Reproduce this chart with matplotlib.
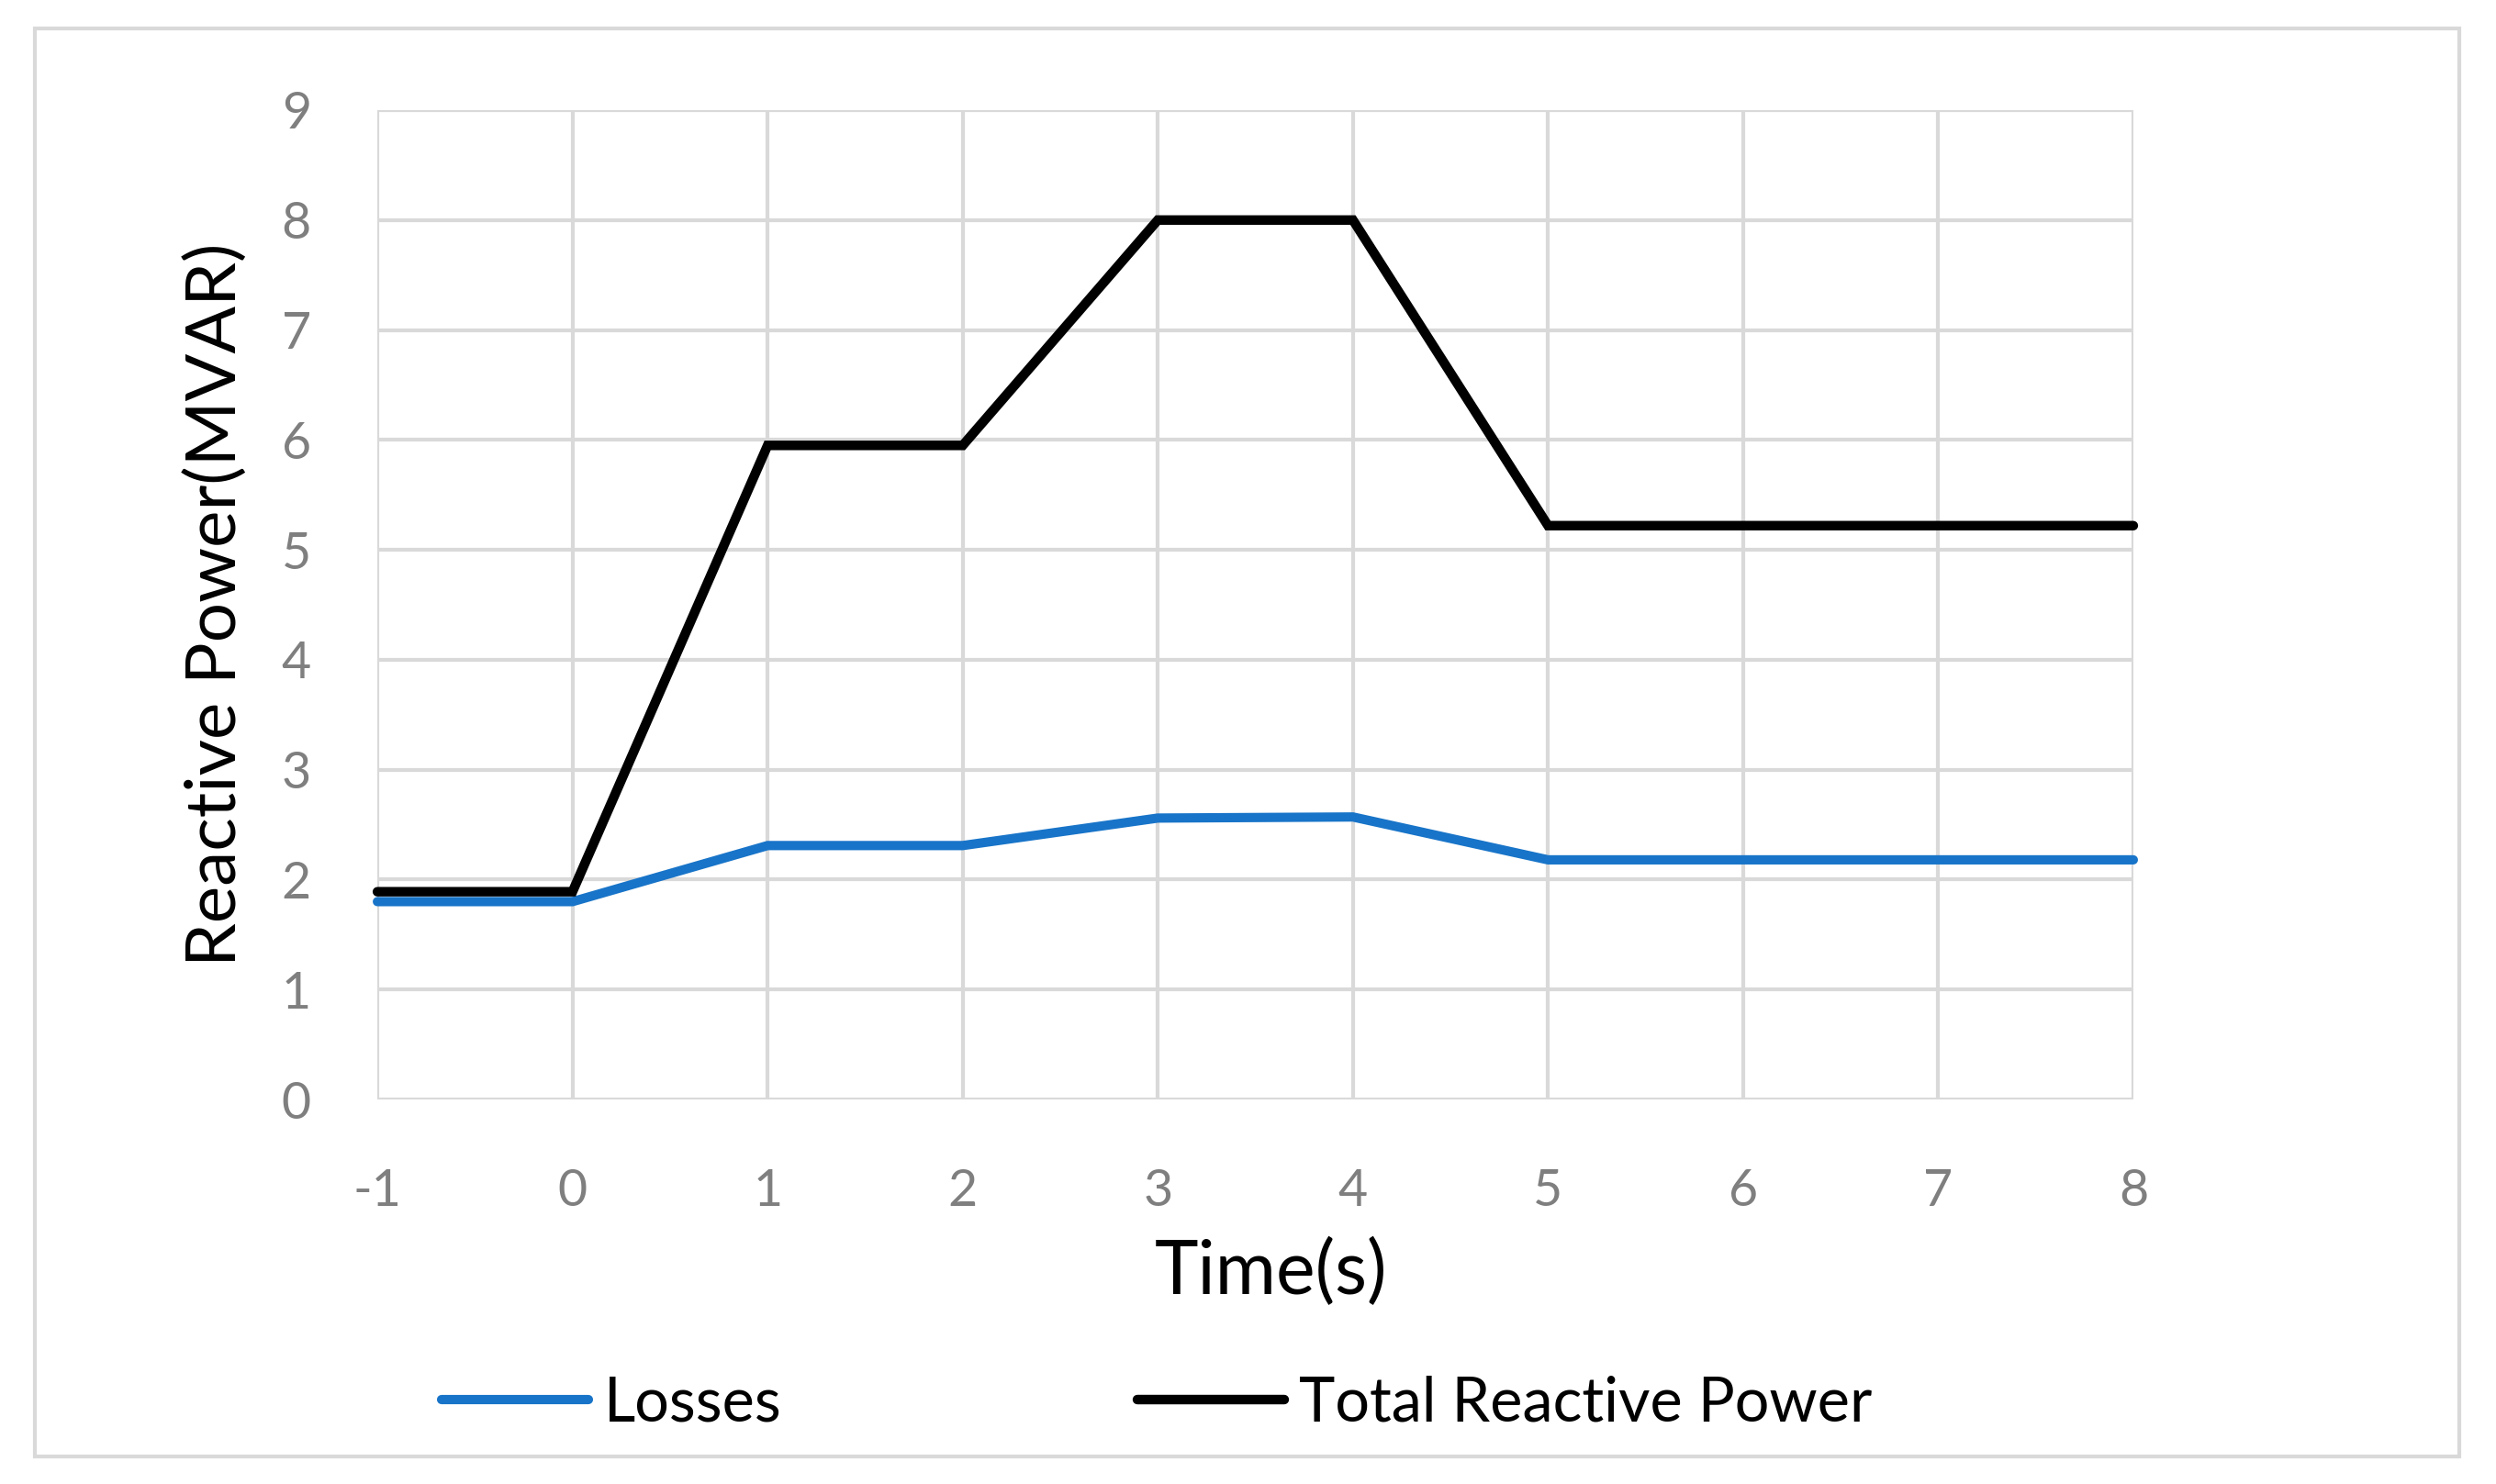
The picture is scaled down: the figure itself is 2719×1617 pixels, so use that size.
import matplotlib.pyplot as plt
from matplotlib.patches import Rectangle

# data
time_s = [-1, 0, 1, 2, 3, 4, 5, 6, 7, 8]
losses = [1.80, 1.80, 2.31, 2.31, 2.56, 2.57, 2.18, 2.18, 2.18, 2.18]
total_q = [1.89, 1.89, 5.95, 5.95, 8.0, 8.0, 5.22, 5.22, 5.22, 5.22]
x_ticks = [-1, 0, 1, 2, 3, 4, 5, 6, 7, 8]
y_ticks = [0, 1, 2, 3, 4, 5, 6, 7, 8, 9]

plt.rcParams['font.family'] = ['Lato', 'DejaVu Sans']
plt.rcParams['axes.unicode_minus'] = False

fig = plt.figure(figsize=(27.19, 16.17), dpi=100)
ax = fig.add_axes([0.1512, 0.2591, 0.7035, 0.6667])

grid_col = '#d9d9d9'
ax.plot(time_s, losses, color='#1874c8', lw=7.3, solid_capstyle='round',
        solid_joinstyle='miter', clip_on=False, label='Losses', zorder=3)
ax.plot(time_s, total_q, color='black', lw=7.5, solid_capstyle='round',
        solid_joinstyle='miter', clip_on=False, label='Total Reactive Power', zorder=4)

ax.set_xlim(-1, 8)
ax.set_ylim(0, 9)
ax.set_xticks(x_ticks)
ax.set_yticks(y_ticks)
ax.grid(True, color=grid_col, lw=3)
for s in ax.spines.values():
    s.set_visible(False)
ax.tick_params(axis='both', length=0, labelsize=40, colors='#7f7f7f')
ax.tick_params(axis='y', pad=52)
ax.tick_params(axis='x', pad=54)

ax.set_xlabel('Time(s)', fontsize=58)
ax.xaxis.set_label_coords(0.509, -0.14)
ax.set_ylabel('Reactive Power(MVAR)', fontsize=55)
ax.yaxis.set_label_coords(-0.074, 0.5)

fig.legend(loc='center left', bbox_to_anchor=(0.155, 0.054), ncol=2, frameon=False,
           fontsize=48, handlelength=2.4, handletextpad=0.25, columnspacing=5.8)

# outer chart border
fig.patches.append(Rectangle((0.014, 0.0186), 0.9713, 0.9623, transform=fig.transFigure,
                             fill=False, edgecolor=grid_col, lw=3))

fig.savefig('out.png', dpi=100)
